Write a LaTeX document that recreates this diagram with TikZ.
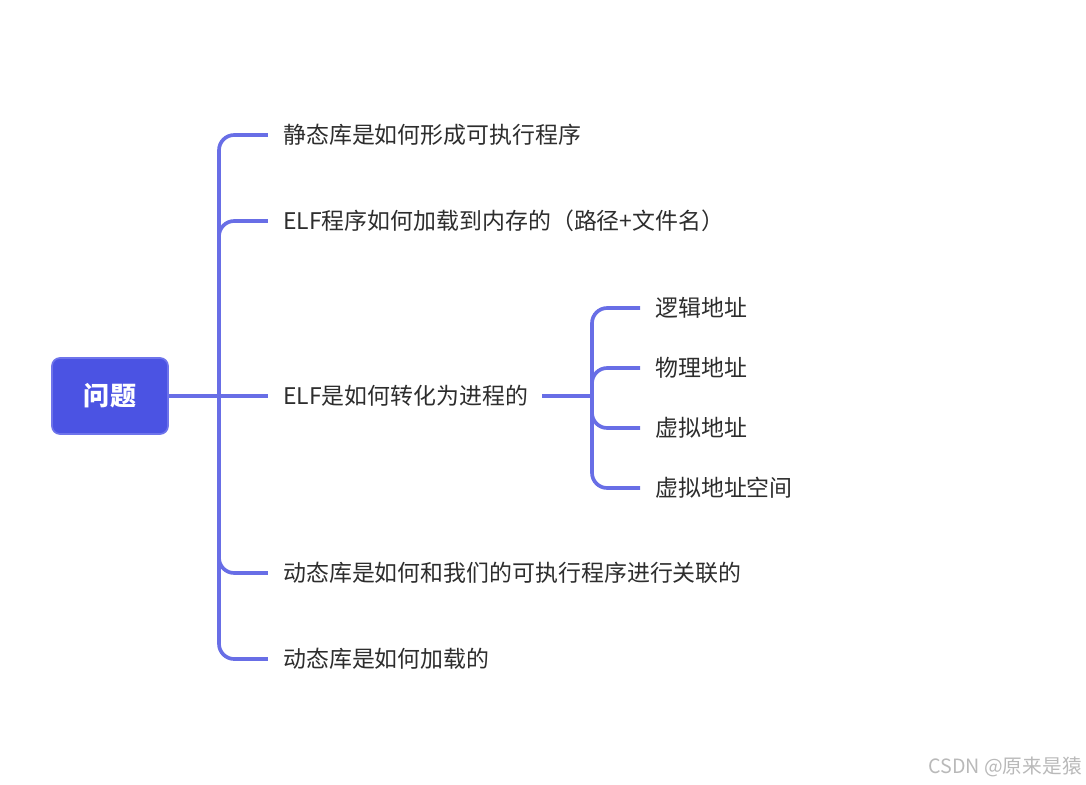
\documentclass[tikz,border=0pt]{standalone}
\usepackage{fontspec}
\setmainfont{Noto Sans CJK SC}
\usepackage{xcolor}
\usetikzlibrary{positioning}
\definecolor{rootblue} {RGB}{75,83,227}
\definecolor{rootedge} {RGB}{110,116,235}
\definecolor{linkblue} {RGB}{104,110,230}
\definecolor{textgray} {RGB}{45,45,45}
\definecolor{markgray} {RGB}{185,185,185}
\tikzset{
  rootbox/.style ={draw=rootedge, fill=rootblue, text=white, line width=1.2pt,
                   rounded corners=0.2cm, minimum width=2.9cm, minimum height=1.9cm,
                   font=\fontsize{18.5}{22}\selectfont\bfseries, inner sep=0pt},
  leaf/.style    ={anchor=west, inner sep=0pt, text=textgray,
                   font=\fontsize{16.3}{20}\selectfont},
  link/.style    ={draw=linkblue, line width=2.6pt, rounded corners=0.38cm},
  wmark/.style   ={anchor=east, inner sep=0pt, text=markgray,
                   font=\fontsize{14}{16}\selectfont},
}
\begin{document}
\begin{tikzpicture}[x=0.025cm,y=-0.025cm]
  \useasboundingbox (0,0) rectangle (1086,784);
  %% root and first level
  \node[rootbox] (root) at (110,396) {问题};
  \coordinate (hub) at (219,396);
  \node[leaf] (q1) at (283,135) {静态库是如何形成可执行程序};
  \node[leaf] (q2) at (283,221) {ELF程序如何加载到内存的（路径+文件名）};
  \node[leaf] (q3) at (283,396) {ELF是如何转化为进程的};
  \node[leaf] (q4) at (283,573) {动态库是如何和我们的可执行程序进行关联的};
  \node[leaf] (q5) at (283,659) {动态库是如何加载的};
  \draw[link] (root.east) -- ([xshift=-0.375cm]q3.west);
  \foreach \q in {q1,q2,q4,q5}
    \draw[link] (hub) |- ([xshift=-0.375cm]\q.west);
  %% second level
  \coordinate (subhub) at (592,396);
  \node[leaf] (a1) at (655,308) {逻辑地址};
  \node[leaf] (a2) at (655,368) {物理地址};
  \node[leaf] (a3) at (655,428) {虚拟地址};
  \node[leaf] (a4) at (655,488) {虚拟地址空间};
  \draw[link] ([xshift=0.35cm]q3.east) -- (subhub);
  \foreach \a in {a1,a2,a3,a4}
    \draw[link] (subhub) |- ([xshift=-0.375cm]\a.west);
  \node[wmark] (wm) at (1082,767) {CSDN @原来是猿};
\end{tikzpicture}
\end{document}
